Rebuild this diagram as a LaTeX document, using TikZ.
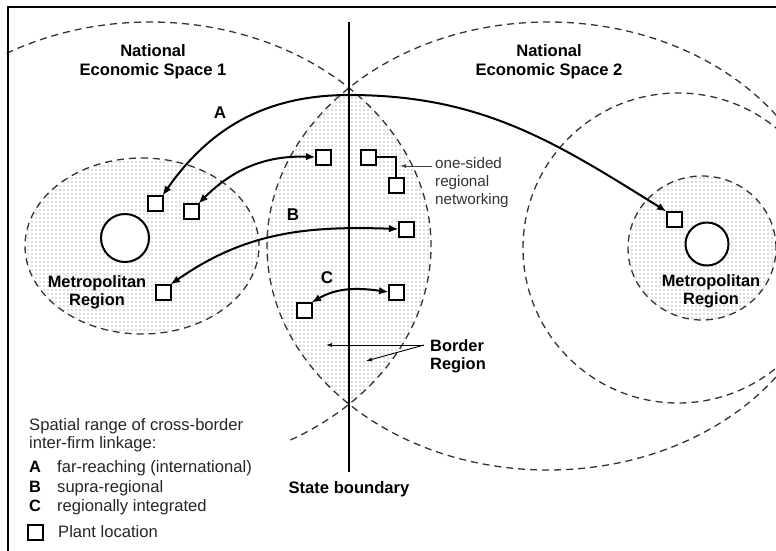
\documentclass[tikz,border=0pt]{standalone}
\usepackage{fontspec}
\setmainfont{Liberation Sans}
\usetikzlibrary{arrows.meta,patterns}
\pgfdeclarepatternformonly{stipple}{\pgfqpoint{-1pt}{-1pt}}{\pgfqpoint{1pt}{1pt}}{\pgfqpoint{4pt}{4pt}}{%
  \pgfpathcircle{\pgfqpoint{0pt}{0pt}}{0.7pt}\pgfusepath{fill}}
\begin{document}
\begin{tikzpicture}[x=1pt,y=1pt,
  bnd/.style={dash pattern=on 7pt off 5pt, line width=1.3pt, black!80},
  dotfill/.style={pattern=stipple, pattern color=black!60},
  plant/.style={draw, line width=2pt, fill=white, minimum size=15pt, inner sep=0pt, outer sep=0pt},
  metro/.style={draw, circle, line width=2pt, fill=white, inner sep=0pt},
  link/.style={line width=2pt, {Latex[length=9.5pt,width=7.5pt]}-{Latex[length=9.5pt,width=7.5pt]}},
  fine/.style={line width=0.9pt, -{Latex[length=6pt,width=4pt]}},
  hd/.style={font=\fontsize{16.6}{19}\selectfont\bfseries, align=center, inner sep=0pt},
  ml/.style={font=\fontsize{16.4}{18}\selectfont\bfseries, align=center, inner sep=0pt},
  letter/.style={font=\fontsize{17}{19}\selectfont\bfseries, inner sep=0pt},
  leg/.style={font=\fontsize{16.6}{18}\selectfont, text=black!85, inner sep=0pt, align=left},
  legb/.style={font=\fontsize{16.4}{18}\selectfont\bfseries, inner sep=0pt},
  note/.style={font=\fontsize{15.2}{18}\selectfont, text=black!80, inner sep=0pt, align=left}
]
\useasboundingbox (0,0) rectangle (776,-550);
\begin{scope}
\clip (0,0) rectangle (776,-550);
% border region (lens) fill
\begin{scope}
\clip (150,-246) ellipse [x radius=281, y radius=224];
\fill[dotfill] (548,-246) ellipse [x radius=281, y radius=224];
\end{scope}
% metropolitan regions
\fill[dotfill] (142,-246) ellipse [x radius=117, y radius=88];
\draw[bnd] (142,-246) ellipse [x radius=117, y radius=88];
\fill[dotfill] (702,-248) ellipse [x radius=74, y radius=72];
\draw[bnd] (702,-248) ellipse [x radius=74, y radius=72];
% national economic spaces
\draw[bnd] (150,-246) ++(-60:281 and 224) arc[start angle=-60, end angle=121, x radius=281, y radius=224];
\draw[bnd] (548,-246) ellipse [x radius=281, y radius=224];
\draw[bnd] (678,-248) circle[radius=155];
% frame
\draw[line width=2.2pt] (8,-560) -- (8,-7) -- (790,-7);
% state boundary
\node[hd, anchor=base] (sb) at (349,-493) {State boundary};
\coordinate (sbtop) at (349,-22);
\coordinate (sbbot) at (349,-472);
\draw[line width=1.6pt] (sbtop) -- (sbbot);
% metro cores
\node[metro, minimum size=48pt] (m1) at (125,-238) {};
\node[metro, minimum size=43pt] (m2) at (707,-244) {};
% plants
\node[plant] (sq1) at (155,-203) {};
\node[plant] (sq2) at (191,-211) {};
\node[plant] (sq3) at (163,-292) {};
\node[plant] (sqa) at (323,-157) {};
\node[plant] (sqb) at (368,-157) {};
\node[plant] (sqc) at (396,-185) {};
\node[plant] (sqd) at (406,-229) {};
\node[plant] (sqe) at (304,-310) {};
\node[plant] (sqf) at (396,-292) {};
\node[plant] (sqg) at (674,-219) {};
% linkages
\coordinate (P) at (349,-95);
\draw[link] (sq1.north east) to[out=55, in=180] (P) to[out=0, in=148] (sqg.north west);
\draw[link] (sqa.west) to[out=178, in=45] (sq2.north east);
\draw[link] (sqd.west) to[out=178, in=35] (sq3.north east);
\draw[link] (sqf.west) to[out=172, in=30] (sqe.north east);
\draw[line width=1.5pt] (sqb.east) -| (sqc.north);
% labels
\node[hd, anchor=north] (ns1) at (153,-44.5) {National\\Economic Space 1};
\node[hd, anchor=north] (ns2) at (549,-44.5) {National\\Economic Space 2};
\node[ml, anchor=north] (mr1) at (97,-275.5) {Metropolitan\\Region};
\node[ml, anchor=north] (mr2) at (711,-274.5) {Metropolitan\\Region};
\node[letter, anchor=base] (la) at (220,-118) {A};
\node[letter, anchor=base] (lb) at (293,-220) {B};
\node[letter, anchor=base] (lc) at (327,-283) {C};
\node[note, anchor=north west] (os) at (435,-157) {one-sided\\regional\\networking};
\coordinate (osa) at (432,-166);
\coordinate (osb) at (400,-166);
\draw[fine, black!75] (osa) -- (osb);
\node[ml, anchor=north west, align=left] (br) at (430,-339.5) {Border\\Region};
\coordinate (brs) at (424,-345);
\coordinate (brt1) at (326,-345);
\coordinate (brt2) at (366,-361);
\draw[fine] (brs) -- (brt1);
\draw[fine] (brs) -- (brt2);
% legend
\node[leg, anchor=north west] (lg) at (29,-418.5) {Spatial range of cross-border\\inter-firm linkage:};
\node[legb, anchor=base west] (ka) at (29,-472) {A};
\node[leg, anchor=base west] (ta) at (57,-472) {far-reaching (international)};
\node[legb, anchor=base west] (kb) at (29,-492) {B};
\node[leg, anchor=base west] (tb) at (57,-492) {supra-regional};
\node[legb, anchor=base west] (kc) at (29,-511) {C};
\node[leg, anchor=base west] (tc) at (57,-511) {regionally integrated};
\node[plant] (ksq) at (35,-532) {};
\node[leg, anchor=base west] (tp) at (58,-537) {Plant location};
\end{scope}
\end{tikzpicture}
\end{document}
